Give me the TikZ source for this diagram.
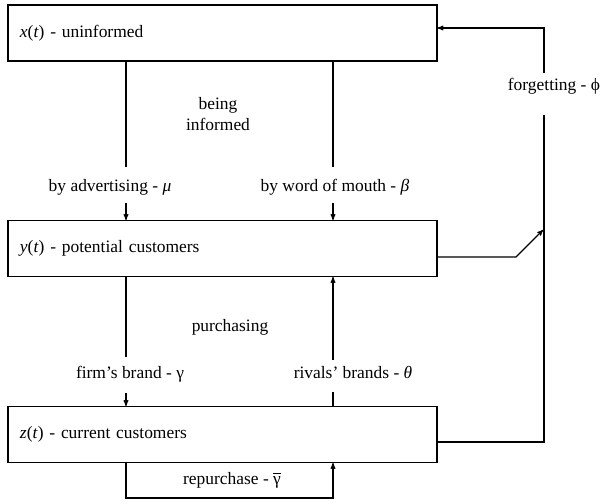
\documentclass[tikz,border=0pt]{standalone}
\usepackage{fontspec}
\setmainfont{Liberation Serif}
\usetikzlibrary{positioning}
\usetikzlibrary{arrows}
\usetikzlibrary{calc}
\newcommand{\gbar}{{\setbox0\hbox{γ}\rlap{\hbox to\wd0{\hss\raisebox{0.6em}{\rule{0.42em}{0.05em}}\hss}}γ}}
\tikzset{>=stealth'}
\tikzset{stock/.style={draw, rectangle, minimum height=56bp, text width=405bp, inner xsep=12bp, align=left}}
\tikzset{flow/.style={inner sep=1pt}}

\begin{document}
\begin{tikzpicture}[x=1bp, y=-1bp, line width=1.1bp, font=\fontsize{17.5}{21}\selectfont]
\useasboundingbox (0,0) rectangle (603,504);
\node (xbox) [stock] at (222.5,33) {\textit{x}(\textit{t}) - uninformed};
\node (ybox) [stock] at (222.5,248.5) {\textit{y}(\textit{t}) - potential customers};
\node (zbox) [stock] at (222.5,434.5) {\textit{z}(\textit{t}) - current customers};

\node (inform) [flow, align=center] at (218,114) {being\\informed};
\node (adv) [flow] at (110,187) {by advertising - \textit{μ}};
\node (wom) [flow] at (335,187) {by word of mouth - \textit{β}};
\node (purch) [flow] at (230,327) {purchasing};
\node (firm) [flow] at (130,374) {firm’s brand - γ};
\node (rival) [flow] at (353,372) {rivals’ brands - \textit{θ}};
\node (forget) [flow] at (554,86) {forgetting - ϕ};
\node (repur) [flow] at (232,480) {repurchase - \gbar};

\coordinate (advtop) at (126,167);
\coordinate (advbot) at (126,203);
\coordinate (womtop) at (333,167);
\coordinate (wombot) at (333,203);
\coordinate (firmtop) at (126,357);
\coordinate (firmbot) at (126,393);
\coordinate (rivaltop) at (333,360);
\coordinate (rivalbot) at (333,392);
\coordinate (rp1) at (126,498);
\coordinate (rp2) at (333,498);
\coordinate (fgtop) at (544,28);
\coordinate (fgup) at (544,73);
\coordinate (fgdown) at (544,115);
\coordinate (fgz) at (544,442);
\coordinate (yout) at (516,257);
\coordinate (yin) at (543,230);

\draw (xbox.south -| advtop) -- (advtop);
\draw[->] (advbot) -- (ybox.north -| advbot);
\draw (xbox.south -| womtop) -- (womtop);
\draw[->] (wombot) -- (ybox.north -| wombot);

\draw (ybox.south -| firmtop) -- (firmtop);
\draw[->] (firmbot) -- (zbox.north -| firmbot);
\draw (zbox.north -| rivalbot) -- (rivalbot);
\draw[->] (rivaltop) -- (ybox.south -| rivaltop);

\draw[->] (zbox.south -| rp1) -- (rp1) -- (rp2) -- (zbox.south -| rp2);

\draw[->] (fgup) -- (fgtop) -- (fgtop -| xbox.east);
\draw (fgz -| zbox.east) -- (fgz) -- (fgdown);
\draw[->] (yout -| ybox.east) -- (yout) -- (yin);
\end{tikzpicture}
\end{document}
